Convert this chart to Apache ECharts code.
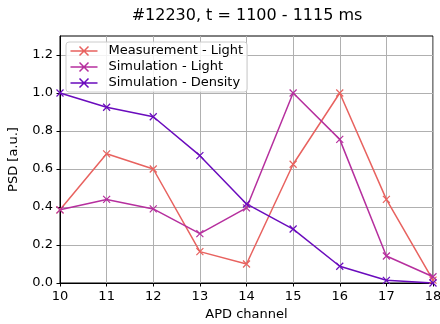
<!DOCTYPE html>
<html>
<head>
<meta charset="utf-8">
<script src="https://cdn.jsdelivr.net/npm/echarts@6/dist/echarts.min.js"></script>
<style>html,body{margin:0;padding:0;background:#fff}#c{width:440px;height:324px}</style>
</head>
<body>
<div id="c"></div>
<script>
// APD channel numbers and normalized power spectral density per channel
const channels = [10, 11, 12, 13, 14, 15, 16, 17, 18];
const measLight = [0.385, 0.68, 0.60, 0.165, 0.10, 0.625, 1.0, 0.44, 0.015];
const simLight = [0.385, 0.44, 0.39, 0.26, 0.395, 1.0, 0.756, 0.142, 0.033];
const simDensity = [1.0, 0.925, 0.875, 0.67, 0.416, 0.284, 0.088, 0.014, 0.0];
const yTicks = [0, 0.2, 0.4, 0.6, 0.8, 1.0, 1.2];

const seriesDefs = [
  { name: 'Measurement - Light', values: measLight, color: '#e8625f' },
  { name: 'Simulation - Light', values: simLight, color: '#b62f9e' },
  { name: 'Simulation - Density', values: simDensity, color: '#6a0bbd' }
];

const cross = 'path://M0,0L10,10M10,0L0,10';
const legendIcon = 'path://M0,5L30,5M10,0L20,10M20,0L10,10';
const font = 'DejaVu Sans';

const chart = echarts.init(document.getElementById('c'), null, { renderer: 'canvas' });
chart.setOption({
  animation: false,
  backgroundColor: '#fff',
  textStyle: { fontFamily: font },
  title: {
    text: '#12230, t = 1100 - 1115 ms',
    left: 242, top: 3, textAlign: 'center',
    textStyle: { fontFamily: font, fontSize: 16, fontWeight: 'normal', color: '#000' }
  },
  legend: {
    left: 66, top: 42, orient: 'vertical',
    backgroundColor: 'rgba(255,255,255,0.85)',
    borderColor: '#cccccc', borderWidth: 1, borderRadius: 3,
    padding: [2, 4, 2, 2], itemGap: 2,
    itemWidth: 29, itemHeight: 9,
    textStyle: { fontFamily: font, fontSize: 13, color: '#000', padding: [0, 0, 0, 5] },
    data: seriesDefs.map(s => ({
      name: s.name, icon: legendIcon,
      itemStyle: { color: 'none', borderColor: s.color, borderWidth: 1.5 }
    }))
  },
  grid: {
    left: 60, right: 7, top: 36, bottom: 41,
    outerBoundsMode: 'none',
    show: true, borderColor: '#000', borderWidth: 1
  },
  xAxis: {
    type: 'value', min: 10, max: 18, interval: 1,
    name: 'APD channel', nameLocation: 'middle', nameGap: 24,
    nameTextStyle: { fontFamily: font, fontSize: 13, color: '#000' },
    axisLine: { lineStyle: { color: '#000' } },
    axisTick: { show: true, length: 3.5, lineStyle: { color: '#000' } },
    axisLabel: { fontFamily: font, fontSize: 13, color: '#000', margin: 7, hideOverlap: false },
    splitLine: { show: true, lineStyle: { color: '#b0b0b0', width: 1 } }
  },
  yAxis: {
    type: 'value', min: 0, max: 1.3, interval: 0.2,
    name: 'PSD [a.u.]', nameLocation: 'middle', nameGap: 40,
    nameTextStyle: { fontFamily: font, fontSize: 13, color: '#000' },
    axisLine: { show: true, lineStyle: { color: '#000' } },
    axisTick: { show: true, length: 3.5, lineStyle: { color: '#000' }, customValues: yTicks },
    axisLabel: {
      fontFamily: font, fontSize: 13, color: '#000', margin: 7,
      customValues: yTicks,
      formatter: v => v.toFixed(1)
    },
    splitLine: { show: true, lineStyle: { color: '#b0b0b0', width: 1 } }
  },
  series: seriesDefs.map(s => ({
    name: s.name,
    type: 'line',
    data: channels.map((c, i) => [c, s.values[i]]),
    symbol: cross, symbolSize: 7,
    showAllSymbol: true,
    lineStyle: { color: s.color, width: 1.5 },
    itemStyle: { color: 'none', borderColor: s.color, borderWidth: 1.2 },
    emphasis: { disabled: true },
    clip: false
  }))
});
</script>
</body>
</html>
